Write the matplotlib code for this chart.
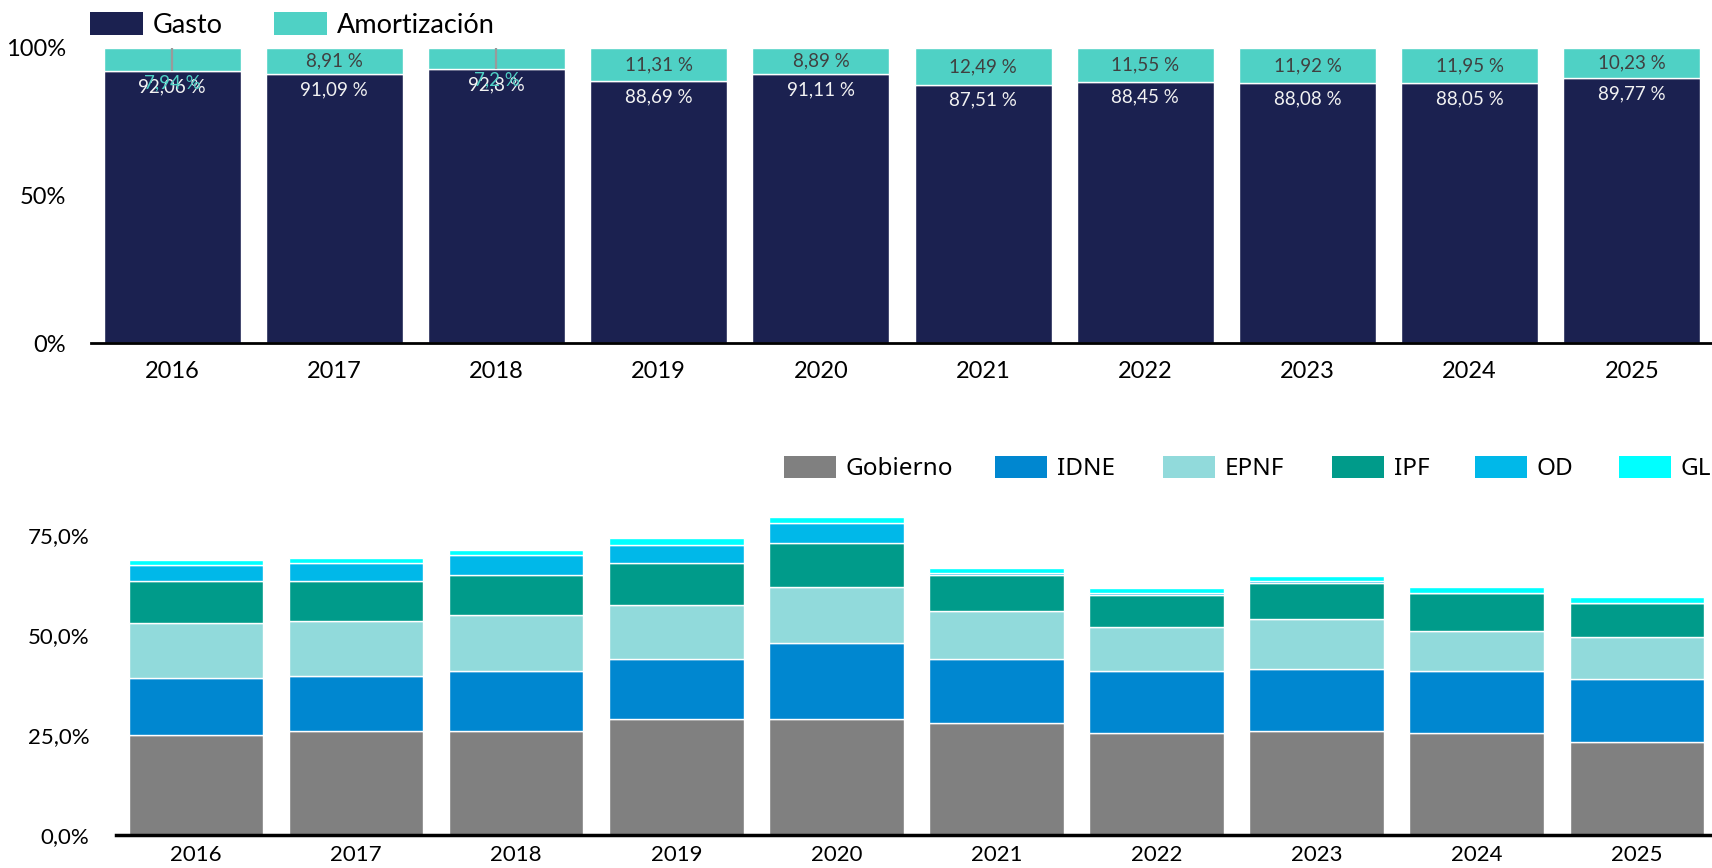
import matplotlib
matplotlib.use("Agg")
import matplotlib.pyplot as plt
from matplotlib.patches import Patch
import numpy as np

years = ["2016", "2017", "2018", "2019", "2020", "2021", "2022", "2023", "2024", "2025"]

# Top chart: share of Gasto vs Amortización (%)
gasto = [92.06, 91.09, 92.8, 88.69, 91.11, 87.51, 88.45, 88.08, 88.05, 89.77]
amort = [7.94, 8.91, 7.2, 11.31, 8.89, 12.49, 11.55, 11.92, 11.95, 10.23]

# Bottom chart: composition (%)
gobierno = [24.9, 25.9, 25.9, 28.9, 28.9, 27.9, 25.4, 25.9, 25.4, 23.3]
idne = [14.4, 13.9, 15.0, 15.1, 19.1, 16.1, 15.5, 15.5, 15.5, 15.6]
epnf = [13.7, 13.6, 14.1, 13.6, 14.1, 12.1, 11.1, 12.6, 10.1, 10.6]
ipf = [10.5, 10.0, 10.0, 10.5, 11.0, 9.0, 8.0, 9.0, 9.5, 8.5]
od = [3.9, 4.5, 5.0, 4.5, 5.0, 0.4, 0.4, 0.5, 0.1, 0.1]
gl = [1.4, 1.4, 1.3, 1.6, 1.3, 1.2, 1.3, 1.3, 1.3, 1.3]

bottom_names = ["Gobierno", "IDNE", "EPNF", "IPF", "OD", "GL"]
bottom_series = [gobierno, idne, epnf, ipf, od, gl]
bottom_colors = ["#808080", "#0087D0", "#91DADB", "#009B8A", "#00B8E9", "#00FFFF"]

NAVY = "#1B2150"
TEAL = "#4FD1C5"

plt.rcParams['font.family'] = ['Lato', 'DejaVu Sans']

W, H = 1712, 868
fig = plt.figure(figsize=(W / 100, H / 100), dpi=100)

def fx(px):
    return px / W

def fy(py):
    return 1 - py / H

def fmt(v):
    s = ("%.2f" % v).rstrip("0").rstrip(".")
    return s.replace(".", ",") + " %"

# ---------------- Top chart ----------------
ax1 = fig.add_axes([fx(91), fy(343), fx(1712 - 91), (343 - 48) / H])
x = np.arange(len(years))
bw = 0.845
ax1.bar(x, gasto, bw, color=NAVY, edgecolor="white", linewidth=1, label="Gasto")
ax1.bar(x, amort, bw, bottom=gasto, color=TEAL, edgecolor="white", linewidth=1, label="Amortización")
ax1.set_xlim(-0.5, 9.494)
ax1.set_ylim(0, 100)
ax1.set_yticks([0, 50, 100])
ax1.set_yticklabels(["0%", "50%", "100%"])
ax1.set_xticks(x)
ax1.set_xticklabels(years)
ax1.tick_params(axis="both", length=0, labelsize=17, colors="#000000")
ax1.tick_params(axis="y", pad=18)
ax1.tick_params(axis="x", pad=13)
for s in ["top", "right", "left"]:
    ax1.spines[s].set_visible(False)
ax1.spines["bottom"].set_linewidth(2)
ax1.spines["bottom"].set_color("#000000")

for i in range(len(years)):
    g = gasto[i]
    a = amort[i]
    ax1.annotate(fmt(g), (i, g), xytext=(0, -11), textcoords="offset points",
                 ha="center", va="center", fontsize=13.5, color="#F2F2F2")
    if a < 8:
        ax1.vlines(i, g, 100, color="#9A9A9A", linewidth=1.6, zorder=3)
        ax1.annotate(fmt(a), (i, g), xytext=(0, -8), textcoords="offset points",
                     ha="center", va="center", fontsize=13.5, color=TEAL, zorder=4)
    else:
        ax1.annotate(fmt(a), (i, g + a / 2), ha="center", va="center",
                     fontsize=13.5, color="#404040")

h1 = [Patch(facecolor=NAVY), Patch(facecolor=TEAL)]
fig.legend(h1, ["Gasto", "Amortización"], loc="upper left",
           bbox_to_anchor=(fx(90), fy(12)), ncol=2, frameon=False, fontsize=19.5,
           handlelength=1.95, handleheight=0.95, handletextpad=0.37,
           columnspacing=1.9, borderpad=0, borderaxespad=0)

# ---------------- Bottom chart ----------------
ax2 = fig.add_axes([fx(116), fy(835), fx(1712 - 116), 340 / H])
cum = np.zeros(len(years))
for name, vals, col in zip(bottom_names, bottom_series, bottom_colors):
    v = np.array(vals)
    ax2.bar(x, v, 0.84, bottom=cum, color=col, edgecolor="white", linewidth=1, label=name)
    cum = cum + v
ax2.set_xlim(-0.5, 9.47)
ax2.set_ylim(0, 85)
ax2.set_yticks([0, 25, 50, 75])
ax2.set_yticklabels(["0,0%", "25,0%", "50,0%", "75,0%"])
ax2.set_xticks(x)
ax2.set_xticklabels(years)
ax2.tick_params(axis="both", length=0, labelsize=16, colors="#000000")
ax2.tick_params(axis="y", pad=19)
ax2.tick_params(axis="x", pad=7)
for s in ["top", "right", "left"]:
    ax2.spines[s].set_visible(False)
ax2.spines["bottom"].set_linewidth(2.5)
ax2.spines["bottom"].set_color("#000000")

# Legend entries placed individually (spacing as in the original)
legend_left_px = [784, 995, 1163, 1332, 1475, 1619]
for name, col, lx in zip(bottom_names, bottom_colors, legend_left_px):
    fig.legend([Patch(facecolor=col)], [name], loc="upper left",
               bbox_to_anchor=(fx(lx), fy(456)), frameon=False,
               prop={"family": ["Noto Sans", "DejaVu Sans"], "size": 17.5},
               handlelength=2.14, handleheight=1.0, handletextpad=0.41,
               borderpad=0, borderaxespad=0)

fig.savefig("out.png", dpi=100)
